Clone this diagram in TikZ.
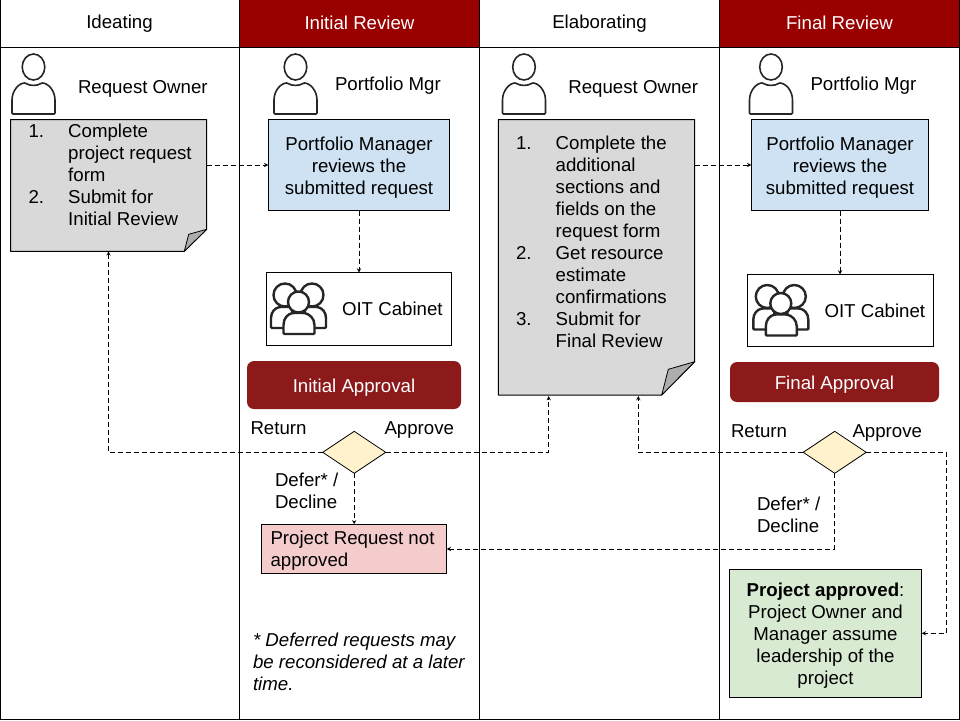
\documentclass[tikz,border=0pt]{standalone}
\usepackage{fontspec}
\setmainfont{Liberation Sans}
\usetikzlibrary{shapes.geometric, arrows}
\definecolor{oitred}{HTML}{990000}
\definecolor{apprred}{HTML}{8C1A1A}
\definecolor{notegray}{HTML}{D9D9D9}
\definecolor{foldgray}{HTML}{ADADAD}
\definecolor{reqblue}{HTML}{CFE2F3}
\definecolor{decyellow}{HTML}{FFF2CC}
\definecolor{notpink}{HTML}{F4CCCC}
\definecolor{okgreen}{HTML}{D9EAD3}
\tikzstyle{base} = [inner sep=0pt, outer sep=0pt, font=\fontsize{18.67}{22}\selectfont]
\tikzstyle{label} = [base, anchor=west, align=left]
\tikzstyle{headwhite} = [base, minimum width=240pt, minimum height=47pt, text centered]
\tikzstyle{headred} = [headwhite, fill=oitred, text=white]
\tikzstyle{process} = [base, draw=black, line width=1pt, fill=reqblue, text centered, align=center]
\tikzstyle{cabinet} = [base, draw=black, line width=1pt, fill=white]
\tikzstyle{approval} = [base, fill=apprred, text=white, rounded corners=7pt, text centered, text height=18pt]
\tikzstyle{decision} = [diamond, aspect=1.5, inner sep=0pt, outer sep=0pt, minimum width=63pt, minimum height=42pt, draw=black, line width=0.8pt, fill=decyellow]
\tikzstyle{notenode} = [base, minimum width=196.4pt]
\tikzstyle{notepaper} = [draw=black, line width=1pt, fill=notegray, line join=round]
\tikzstyle{notefold} = [draw=black, line width=0.8pt, fill=foldgray, line join=round]
\tikzstyle{arrow} = [line width=0.9pt, dash pattern=on 5pt off 3pt, ->, >=stealth]
\tikzstyle{icon} = [draw=black!85, line width=1.6pt, fill=white, rounded corners=1pt]
\newcommand{\notenum}[1]{\makebox[39.7pt][l]{#1}}
\newcommand{\noteind}{\hspace*{39.7pt}}
\newcommand{\personicon}[1]{
\begin{scope}[shift={(#1,0)}]
\draw [icon] (0,67) ellipse (11.3 and 13);
\draw [icon] (-21.5,114) -- (-21.5,101) .. controls (-21.5,90) and (-14,83) .. (-8,83) .. controls (-4,86) and (4,86) .. (8,83) .. controls (14,83) and (21.5,90) .. (21.5,101) -- (21.5,114) -- cycle;
\end{scope}
}
\newcommand{\groupicon}[2]{
\begin{scope}[shift={(#1,#2)}, icon/.append style={line width=2.4pt}]
\draw [icon] (271,328) -- (271,319) .. controls (271,312) and (275,308) .. (280,307) -- (292,307) -- (292,328) -- cycle;
\draw [icon] (326,328) -- (326,319) .. controls (326,312) and (322,308) .. (317,307) -- (305,307) -- (305,328) -- cycle;
\draw [icon] (285,295) ellipse (11.5 and 11.5);
\draw [icon] (312,295) ellipse (11.5 and 11.5);
\draw [icon] (283.5,334) -- (283.5,326) .. controls (283.5,318) and (288,314) .. (293,313) -- (304,313) .. controls (309,314) and (314.5,318) .. (314.5,326) -- (314.5,334) -- cycle;
\draw [icon] (298.5,302) ellipse (10.5 and 10.5);
\end{scope}
}

\begin{document}
\begin{tikzpicture}[x=1pt, y=-1pt]
\useasboundingbox (0,0) rectangle (960,720);
% headers
\node (head1) [headwhite] at (119.5,24) {Ideating};
\node (head2) [headred] at (359.5,23) {Initial Review};
\node (head3) [headwhite] at (599.5,24) {Elaborating};
\node (head4) [headred] at (839.5,23) {Final Review};
% grid
\draw [line width=1pt] (0.5,0) -- (0.5,719.5) -- (959.5,719.5) -- (959.5,0);
\draw [line width=1pt] (239.5,0) -- (239.5,719.5);
\draw [line width=1pt] (479.5,0) -- (479.5,719.5);
\draw [line width=1pt] (719.5,0) -- (719.5,719.5);
\draw [line width=1pt] (0,47.5) -- (960,47.5);
% people
\personicon{33.5}
\personicon{295.5}
\personicon{524}
\personicon{771}
\node (owner1) [label] at (78,89) {Request Owner};
\node (mgr1) [label] at (335,86) {Portfolio Mgr};
\node (owner2) [label] at (568.3,89) {Request Owner};
\node (mgr2) [label] at (810.5,86) {Portfolio Mgr};
% notes
\node (note1) [notenode, minimum height=131.8pt] at (108.5,185.4) {};
\draw [notepaper] (10.5,119.5) -- (206.7,119.5) -- (206.7,229.3) -- (184.3,251.3) -- (10.5,251.3) -- cycle;
\draw [notefold] (206.7,229.3) -- (188.7,234.3) -- (184.3,251.3) -- cycle;
\node (note1txt) [label] at (28.5,175) {\notenum{1.}Complete\\\noteind project request\\\noteind form\\\notenum{2.}Submit for\\\noteind Initial Review};
\node (note2) [notenode, minimum height=275.5pt] at (596.5,257.2) {};
\draw [notepaper] (498.3,119.5) -- (694.7,119.5) -- (694.7,361.7) -- (661.7,395) -- (498.3,395) -- cycle;
\draw [notefold] (694.7,361.7) -- (668.3,369.3) -- (661.7,395) -- cycle;
\node (note2txt) [label] at (516,242) {\notenum{1.}Complete the\\\noteind additional\\\noteind sections and\\\noteind fields on the\\\noteind request form\\\notenum{2.}Get resource\\\noteind estimate\\\noteind confirmations\\\notenum{3.}Submit for\\\noteind Final Review};
% reviews
\node (review1) [process, minimum width=181.4pt, minimum height=91pt] at (359,165) {\rule{0pt}{19.6pt}Portfolio Manager\\reviews the\\submitted request};
\node (review2) [process, minimum width=177.4pt, minimum height=91pt] at (840,165) {\rule{0pt}{19.6pt}Portfolio Manager\\reviews the\\submitted request};
% cabinets
\node (cabinet1) [cabinet, minimum width=185pt, minimum height=72.5pt] at (359,308.8) {};
\node (cabinet2) [cabinet, minimum width=186.2pt, minimum height=72pt] at (840.6,310.5) {};
\groupicon{0}{0}
\groupicon{482.3}{1.5}
\node (cabtxt1) [label] at (342,309) {OIT Cabinet};
\node (cabtxt2) [label] at (824.5,311) {OIT Cabinet};
% approvals
\node (appr1) [approval, minimum width=214pt, minimum height=48pt] at (354,385) {Initial Approval};
\node (appr2) [approval, minimum width=209pt, minimum height=40pt] at (834.5,382) {Final Approval};
\node (dec1) [decision] at (354.2,452.3) {};
\node (dec2) [decision] at (834.7,452.3) {};
\node (ret1) [label] at (250.5,428.5) {Return};
\node (app1) [label] at (384.5,430) {Approve};
\node (def1) [label] at (275,491) {Defer* /\\Decline};
\node (ret2) [label] at (731,431.5) {Return};
\node (app2) [label] at (852.5,433) {Approve};
\node (def2) [label] at (757,515) {Defer* /\\Decline};
% outcomes
\node (notok) [base, draw=black, line width=1pt, fill=notpink, minimum width=185.4pt, minimum height=49.4pt] at (354,549) {};
\node (notoktxt) [label] at (270.5,551) {Project Request not\\approved};
\node (okbox) [process, fill=okgreen, minimum width=192.4pt, minimum height=128pt] at (825.5,633.3) {\rule{0pt}{17.6pt}\textbf{Project approved}:\\Project Owner and\\Manager assume\\leadership of the\\project};
\node (footnote) [label] at (253,662) {\textit{* Deferred requests may}\\\textit{be reconsidered at a later}\\\textit{time.}};
% connectors
\coordinate (ret1end) at (note1.south);
\coordinate (app1end) at (548.7,396);
\coordinate (ret2end) at (638.3,396);
\draw [arrow] (note1.east |- review1.west) -- (review1.west);
\draw [arrow] (note2.east |- review2.west) -- (review2.west);
\draw [arrow] (review1) -- (cabinet1);
\draw [arrow] (review2) -- (review2 |- cabinet2.north);
\draw [arrow] (dec1.west) -| (ret1end);
\draw [arrow] (dec1.east) -| (app1end);
\draw [arrow] (dec2.west) -| (ret2end);
\draw [arrow] (dec1.south) -- (dec1.south |- notok.north);
\draw [arrow] (dec2.south) |- (notok.east);
\draw [arrow] (dec2.east) -- (946.7,452.3) |- (okbox.east);
\end{tikzpicture}
\end{document}
